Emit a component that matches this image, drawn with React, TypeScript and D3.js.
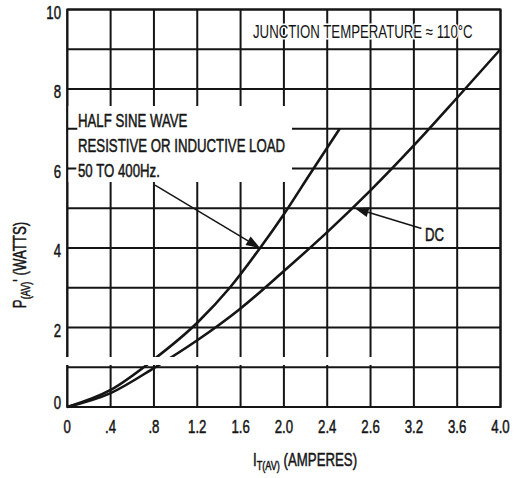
import React from 'react';
import * as d3 from 'd3';

// ---------- data ----------
const xTickValues = [0, 0.4, 0.8, 1.2, 1.6, 2.0, 2.4, 2.8, 3.2, 3.6, 4.0];
const xTickLabels = ['0', '.4', '.8', '1.2', '1.6', '2.0', '2.4', '2.6', '3.2', '3.6', '4.0'];
const yGridValues = [0, 1, 2, 3, 4, 5, 6, 7, 8, 9, 10];
const yTickValues = [0, 2, 4, 6, 8, 10];
const yTickLabels = ['0', '2', '4', '6', '8', '10'];

const halfSineCurrent = [0, 0.4, 0.8, 1.2, 1.5, 1.78, 2.0, 2.25, 2.515];
const halfSinePower = [0, 0.43, 1.2, 2.12, 3.0, 4.0, 4.85, 5.9, 7.0];

const dcCurrent = [0, 0.4, 0.8, 1.2, 1.6, 2.0, 2.4, 2.8, 3.2, 3.6, 4.0];
const dcPower = [0, 0.35, 0.98, 1.68, 2.48, 3.42, 4.4, 5.45, 6.58, 7.78, 9.0];

const halfSineLabelLines = ['HALF SINE WAVE', 'RESISTIVE OR INDUCTIVE LOAD', '50 TO 400Hz.'];
const conditionLabel = 'JUNCTION TEMPERATURE \u2248 110\u00B0C';
const dcLabel = 'DC';

// ---------- layout ----------
const W = 515;
const H = 478;
const FONT = "'Liberation Sans', Arial, sans-serif";
const FS = 18;
const SX = 0.735;
const INK = '#151515';

const x = d3.scaleLinear().domain([0, 4]).range([67.3, 500.5]);
const y = d3.scaleLinear().domain([0, 10]).range([407, 9.5]);

const lineGen = d3
  .line<[number, number]>()
  .x((d) => x(d[0]))
  .y((d) => y(d[1]))
  .curve(d3.curveMonotoneX);

function arrow(from: [number, number], to: [number, number], len = 14, half = 5) {
  const x1 = x(from[0]), y1 = y(from[1]);
  const x2 = x(to[0]), y2 = y(to[1]);
  const dx = x2 - x1, dy = y2 - y1;
  const L = Math.hypot(dx, dy);
  const ux = dx / L, uy = dy / L;
  const nx = -uy, ny = ux;
  const bx = x2 - ux * len, by = y2 - uy * len;
  return {
    line: { x1, y1, x2: bx, y2: by },
    head: `${x2},${y2} ${bx + nx * half},${by + ny * half} ${bx - nx * half},${by - ny * half}`,
  };
}

function T(props: {
  x: number;
  y: number;
  anchor?: string;
  rotate?: number;
  size?: number;
  halo?: boolean;
  children: React.ReactNode;
}) {
  const { x: px, y: py, anchor = 'start', rotate = 0, size = FS, halo, children } = props;
  return (
    <text
      transform={`translate(${px},${py}) rotate(${rotate}) scale(${SX},1)`}
      textAnchor={anchor}
      fontSize={size}
      fill={INK}
      stroke={halo ? '#fff' : INK}
      strokeWidth={halo ? 3 : 0.5}
      paintOrder="stroke"
      strokeLinejoin="round"
    >
      {children}
    </text>
  );
}

export default function App() {
  const halfSine = halfSineCurrent.map((c, i) => [c, halfSinePower[i]] as [number, number]);
  const dc = dcCurrent.map((c, i) => [c, dcPower[i]] as [number, number]);

  const hsArrow = arrow([0.81, 5.58], [1.78, 4.0]);
  const dcArrow = arrow([3.27, 4.49], [2.654, 5.0]);

  const x0 = x(0), x1 = x(4), y0 = y(0), y1 = y(10);

  return (
    <svg
      width={W}
      height={H}
      viewBox={`0 0 ${W} ${H}`}
      style={{ position: 'absolute', left: 0, top: 0, background: '#fff' }}
      fontFamily={FONT}
    >
      <rect x={0} y={0} width={W} height={H} fill="#fff" />

      {/* grid */}
      <g stroke={INK} strokeWidth={2}>
        {xTickValues.map((v) => (
          <line key={'gx' + v} x1={x(v)} x2={x(v)} y1={y0} y2={y1} />
        ))}
        {yGridValues.map((v) => (
          <line key={'gy' + v} x1={x0} x2={x1} y1={y(v)} y2={y(v)} />
        ))}
        <rect x={x0} y={y1} width={x1 - x0} height={y0 - y1} fill="none" />
      </g>

      {/* curves */}
      <path d={lineGen(halfSine) || ''} fill="none" stroke={INK} strokeWidth={2.6} />
      <path d={lineGen(dc) || ''} fill="none" stroke={INK} strokeWidth={2.6} />

      {/* white break band near 1.2 W */}
      <rect x={58} y={357} width={332} height={8} fill="#fff" />

      {/* label box */}
      <rect x={x0 + 1.2} y={106} width={292 - x0 - 1.2} height={76} fill="#fff" />
      <g stroke={INK} strokeWidth={2}>
        <line x1={x0} x2={x0 + 10} y1={y(7)} y2={y(7)} />
        <line x1={x0} x2={x0 + 9} y1={y(6)} y2={y(6)} />
      </g>
      {halfSineLabelLines.map((t, i) => (
        <T key={t} x={78} y={127 + i * 25}>
          {t}
        </T>
      ))}

      {/* arrows */}
      <g stroke={INK} strokeWidth={1.5}>
        <line {...hsArrow.line} />
        <line {...dcArrow.line} />
      </g>
      <polygon points={hsArrow.head} fill={INK} />
      <polygon points={dcArrow.head} fill={INK} />
      <T x={425} y={241}>
        {dcLabel}
      </T>

      {/* condition text */}
      <T x={253} y={38} halo>
        {conditionLabel}
      </T>

      {/* tick labels */}
      {xTickValues.map((v, i) => (
        <T key={'xl' + v} x={x(v)} y={433} anchor="middle">
          {xTickLabels[i]}
        </T>
      ))}
      {yTickValues.map((v, i) => (
        <T key={'yl' + v} x={61} y={y(v) + (v === 0 ? 2 : 9)} anchor="end">
          {yTickLabels[i]}
        </T>
      ))}

      {/* axis titles */}
      <T x={305} y={466} anchor="middle">
        I<tspan fontSize={12.5} dy={4}>T(AV)</tspan>
        <tspan dy={-4}> (AMPERES)</tspan>
      </T>
      <T x={26} y={265} anchor="middle" rotate={-90}>
        P<tspan fontSize={12.5} dy={4}>(AV)</tspan>
        <tspan dy={-4}>' (WATTS)</tspan>
      </T>
    </svg>
  );
}
